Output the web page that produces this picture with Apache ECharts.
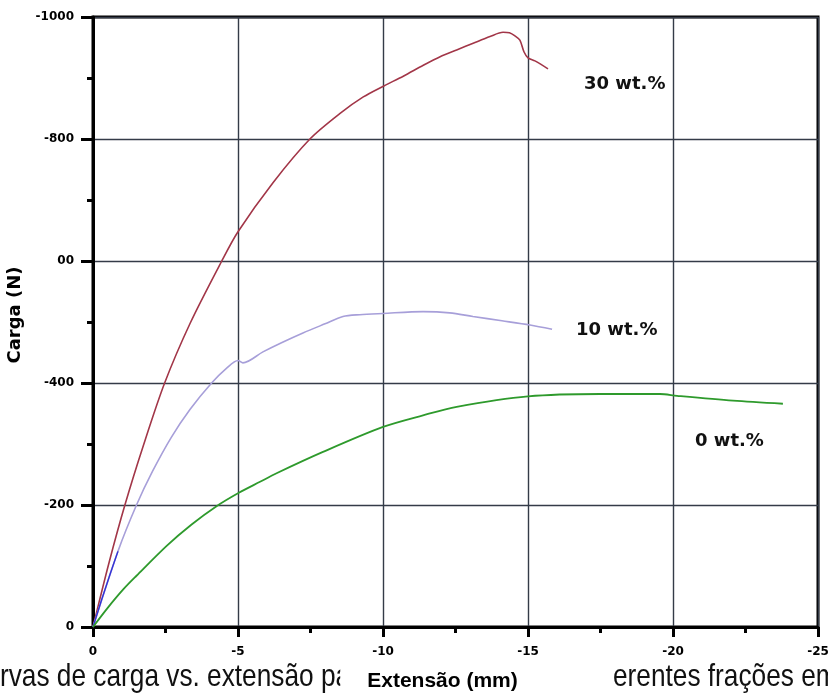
<!DOCTYPE html>
<html>
<head>
<meta charset="utf-8">
<script src="https://cdn.jsdelivr.net/npm/echarts@6/dist/echarts.min.js"></script>
<style>
html,body{margin:0;padding:0;background:#fff;}
#chart{width:828px;height:697px;}
</style>
</head>
<body>
<div id="chart"></div>
<script>
// ---- data ----
const xTicks = [0, -5, -10, -15, -20, -25];
const yTicks = [0, -200, -400, -600, -800, -1000];

const ext30  = [0, -0.55, -1.1, -1.74, -2.47, -3.35, -4.44, -5, -6.2, -7.48, -8.52, -9.32, -10.03, -10.7, -11.39, -11.97, -12.54, -13.11, -13.69, -14.14, -14.36, -14.55, -14.72, -14.86, -15.0, -15.24, -15.69];
const load30 = [0, -105, -200, -298, -400, -498, -600, -648, -728, -800, -842, -869, -887, -903, -921, -935, -946, -957, -968, -975, -974, -969, -962, -943, -933, -928, -915];

const ext10  = [0, -0.86, -1.5, -2.05, -2.7, -3.35, -4.09, -4.6, -5, -5.17, -5.86, -6.5, -7.24, -8.0, -8.62, -9.2, -10, -11.38, -12.3, -13.1, -14.1, -15.07, -15.83];
const load10 = [0, -124, -200, -255, -311, -357, -400, -424, -437, -433, -451, -466, -482, -497, -509, -512, -514, -517, -515, -509, -502, -495, -488];

const ext10start  = [0, -0.3, -0.6, -0.86];
const load10start = [0, -45, -88, -124];

const ext0  = [0, -0.5, -1.05, -1.5, -2.54, -3.4, -4.26, -5.03, -5.76, -6.33, -7.93, -10, -11.38, -12.54, -15, -17.48, -19.55, -20.14, -22.07, -23.79];
const load0 = [0, -31, -62, -84, -133, -168, -198, -220, -238, -252, -287, -328, -347, -361, -378, -382, -382, -379, -371, -366];

const seriesNames = ['30 wt.%', '10 wt.%', '0 wt.%'];
const captionLeft = 'rvas de carga vs. extensão pa';
const captionRight = 'erentes frações em';

function zip(a, b) { return a.map((v, i) => [v, b[i]]); }

const chart = echarts.init(document.getElementById('chart'), null, {renderer: 'canvas'});
const labelFont = 'DejaVu Sans';
const gridColor = '#343b48';

const option = {
  backgroundColor: '#fff',
  animation: false,
  grid: {left: 93, right: 10, top: 17, bottom: 70, containLabel: false, outerBoundsMode: 'none',
    show: true, borderColor: '#000', borderWidth: 3, backgroundColor: 'transparent'},
  xAxis: {
    type: 'value', min: -25, max: 0, interval: 5, inverse: true, z: 3,
    name: 'Extensão (mm)', nameLocation: 'middle', nameGap: 33,
    nameTextStyle: {fontFamily: 'Liberation Sans', fontWeight: 'bold', fontSize: 21, color: '#000',
      backgroundColor: '#fff', padding: [8, 53, 12, 27]},
    axisLine: {show: true, lineStyle: {color: '#000', width: 3}},
    axisTick: {show: true, inside: false, length: 10, lineStyle: {color: '#000', width: 3}},
    minorTick: {show: true, splitNumber: 2, length: 6, lineStyle: {color: '#000', width: 3}},
    axisLabel: {margin: 19, fontFamily: labelFont, fontWeight: 'bold', fontSize: 12, color: '#000',
      formatter: v => xTicks.includes(v) ? String(v) : ''},
    splitLine: {show: true, lineStyle: {color: gridColor, width: 1.4}}
  },
  yAxis: {
    type: 'value', min: -1000, max: 0, interval: 200, inverse: true, z: 3,
    name: 'Carga (N)', nameLocation: 'middle', nameGap: 56,
    nameTextStyle: {fontFamily: labelFont, fontWeight: 'bold', fontSize: 18, color: '#000', padding: [0, 0, 0, 14]},
    axisLine: {show: true, lineStyle: {color: '#000', width: 3}},
    axisTick: {show: true, inside: false, length: 12, lineStyle: {color: '#000', width: 3}},
    minorTick: {show: true, splitNumber: 2, length: 6, lineStyle: {color: '#000', width: 3}},
    axisLabel: {margin: 19, fontFamily: labelFont, fontWeight: 'bold', fontSize: 12, color: '#000',
      formatter: v => {
        if (!yTicks.includes(v)) return '';
        if (v === -600) return '{h|-6}00';
        return String(v);
      },
      rich: {h: {color: '#fff', fontFamily: labelFont, fontWeight: 'bold', fontSize: 12}}
    },
    splitLine: {show: true, lineStyle: {color: gridColor, width: 1.4}}
  },
  series: [
    {name: seriesNames[0], type: 'line', data: zip(ext30, load30), showSymbol: false, smooth: 0.3,
      lineStyle: {color: '#a23648', width: 1.6}, itemStyle: {color: '#a23648'}},
    {name: seriesNames[1], type: 'line', data: zip(ext10, load10), showSymbol: false, smooth: 0.3,
      lineStyle: {color: '#a79fd9', width: 1.6}, itemStyle: {color: '#a79fd9'}},
    {name: seriesNames[1] + ' (início)', type: 'line', data: zip(ext10start, load10start), showSymbol: false,
      lineStyle: {color: '#3333d6', width: 1.4}, itemStyle: {color: '#3333d6'}},
    {name: seriesNames[2], type: 'line', data: zip(ext0, load0), showSymbol: false, smooth: 0.3,
      lineStyle: {color: '#2e9a2c', width: 1.8}, itemStyle: {color: '#2e9a2c'}}
  ],
  graphic: [
    {type: 'text', x: 0, y: 661, z: 1, scaleX: 0.82,
      style: {text: captionLeft, x: 0, y: 0, font: '32px "Liberation Sans"', fill: '#111', verticalAlign: 'top'}},
    {type: 'text', x: 613, y: 661, z: 1, scaleX: 0.82,
      style: {text: captionRight, x: 0, y: 0, font: '32px "Liberation Sans"', fill: '#111', verticalAlign: 'top'}},
    {type: 'text', x: 584, y: 84, z: 5,
      style: {text: seriesNames[0], font: 'bold 18px "DejaVu Sans"', fill: '#111', verticalAlign: 'middle'}},
    {type: 'text', x: 576, y: 330, z: 5,
      style: {text: seriesNames[1], font: 'bold 18px "DejaVu Sans"', fill: '#111', verticalAlign: 'middle'}},
    {type: 'text', x: 695, y: 441, z: 5,
      style: {text: seriesNames[2], font: 'bold 18px "DejaVu Sans"', fill: '#111', verticalAlign: 'middle'}}
  ]
};
chart.setOption(option);
</script>
</body>
</html>
